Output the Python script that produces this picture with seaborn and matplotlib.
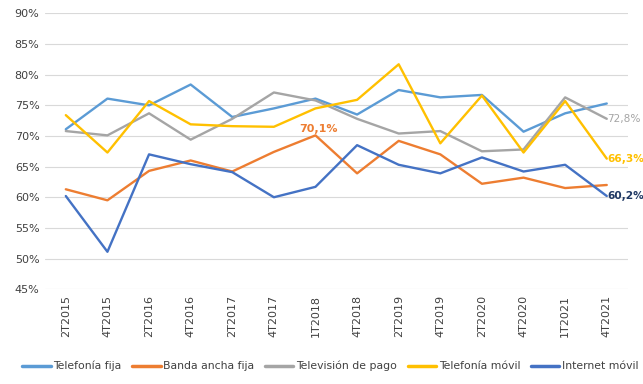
import matplotlib
matplotlib.use("Agg")
import matplotlib.pyplot as plt
import seaborn as sns
import pandas as pd

# ── Data ──────────────────────────────────────────────────────
periods = ['2T2015', '4T2015', '2T2016', '4T2016', '2T2017', '4T2017', '1T2018',
           '4T2018', '2T2019', '4T2019', '2T2020', '4T2020', '1T2021', '4T2021']

telefonia_fija   = [71.1, 76.1, 75.0, 78.4, 73.1, 74.5, 76.1, 73.5, 77.5, 76.3, 76.7, 70.7, 73.7, 75.3]
banda_ancha_fija = [61.3, 59.5, 64.3, 66.0, 64.2, 67.4, 70.1, 63.9, 69.2, 67.0, 62.2, 63.2, 61.5, 62.0]
television_pago  = [70.8, 70.1, 73.7, 69.4, 72.8, 77.1, 75.8, 72.8, 70.4, 70.8, 67.5, 67.8, 76.3, 72.8]
telefonia_movil  = [73.4, 67.3, 75.7, 71.9, 71.6, 71.5, 74.5, 75.9, 81.7, 68.8, 76.6, 67.3, 75.7, 66.3]
internet_movil   = [60.2, 51.1, 67.0, 65.4, 64.1, 60.0, 61.7, 68.5, 65.3, 63.9, 66.5, 64.2, 65.3, 60.2]

series = {
    'Telefonía fija':     telefonia_fija,
    'Banda ancha fija':   banda_ancha_fija,
    'Televisión de pago': television_pago,
    'Telefonía móvil':    telefonia_movil,
    'Internet móvil':     internet_movil,
}
colors = ['#5B9BD5', '#ED7D31', '#A5A5A5', '#FFC000', '#4472C4']

df = pd.concat([pd.DataFrame({'periodo': periods, 'valor': v, 'serie': k})
                for k, v in series.items()], ignore_index=True)

# ── Plot ──────────────────────────────────────────────────────
sns.set_style('white')
plt.rcParams['font.family'] = ['DejaVu Sans']

fig = plt.figure(figsize=(6.43, 3.84), dpi=100)
ax = fig.add_axes([0.070, 0.247, 0.906, 0.718])

sns.lineplot(data=df, x='periodo', y='valor', hue='serie',
             hue_order=list(series), palette=colors, linewidth=1.7,
             sort=False, ax=ax)

ax.set_ylim(45, 90)
ax.set_xlim(-0.5, len(periods) - 0.5)
ax.set_yticks(range(45, 91, 5))
ax.set_yticklabels([f'{t}%' for t in range(45, 91, 5)], fontsize=8, color='#404040')
ax.set_xticks(range(len(periods)))
ax.set_xticklabels(periods, rotation=90, fontsize=8, color='#404040')
ax.tick_params(length=0, pad=4)
ax.grid(axis='y', color='#D9D9D9', linewidth=0.8)
ax.set_axisbelow(True)
ax.set_xlabel('')
ax.set_ylabel('')
for s in ax.spines.values():
    s.set_visible(False)

# ── Data labels ───────────────────────────────────────────────
i18 = periods.index('1T2018')
ax.annotate(f'{banda_ancha_fija[i18]:.1f}%'.replace('.', ','), (i18, banda_ancha_fija[i18]),
            xytext=(2, 1), textcoords='offset points', ha='center', va='bottom',
            fontsize=8, fontweight='bold', color='#ED7D31')
last = len(periods) - 1
for vals, col, fw in [(television_pago, '#A5A5A5', 'normal'),
                      (telefonia_movil, '#FFC000', 'bold'),
                      (internet_movil, '#1F3864', 'bold')]:
    ax.annotate(f'{vals[last]:.1f}%'.replace('.', ','), (last, vals[last]),
                xytext=(0.5, 0), textcoords='offset points', ha='left', va='center',
                fontsize=7.6, fontweight=fw, color=col)

leg = ax.legend(loc='upper center', bbox_to_anchor=(0.49, -0.225), ncol=5,
                frameon=False, fontsize=7.8, handlelength=2.6, handletextpad=0.25,
                columnspacing=1.0)
for t in leg.get_texts():
    t.set_color('#404040')
for h in leg.get_lines():
    h.set_linewidth(2.5)

fig.savefig('out.png', dpi=100)
